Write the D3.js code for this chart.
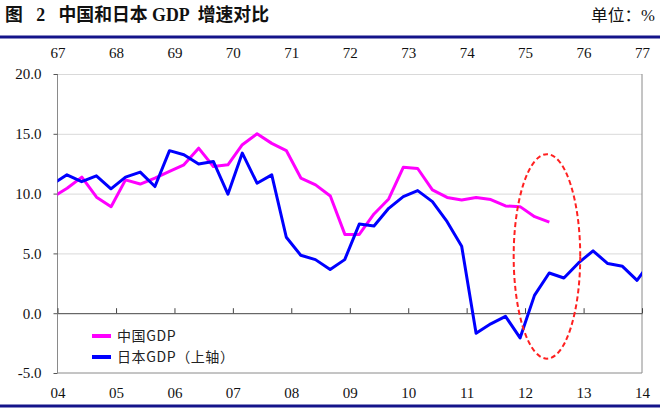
<!DOCTYPE html>
<html>
<head>
<meta charset="utf-8">
<script src="https://cdn.jsdelivr.net/npm/d3@7"></script>
<style>
  html, body { margin: 0; padding: 0; background: #fff; }
  svg { display: block; }
</style>
</head>
<body>
<svg id="chart" width="660" height="415"></svg>
<script>
// ---------------- data ----------------
const title = "图   2   中国和日本 GDP  增速对比";
const unitLabel = "单位：%";
const seriesNames = ["中国GDP", "日本GDP（上轴）"];
const seriesColors = ["#ff00ff", "#0000ff"];

// China GDP growth (%), quarterly, first point Dec 2003 (bottom axis 04-14)
const chinaStart = [2003, 11];
const chinaValues = [9.7, 10.45, 11.38, 9.7, 8.9, 11.15, 10.8, 11.3, 11.85, 12.41, 13.8, 12.27, 12.41,
  14.09, 15.0, 14.2, 13.6, 11.3, 10.73, 9.8, 6.59, 6.59, 8.3, 9.55, 12.2, 12.1, 10.31, 9.68, 9.47,
  9.68, 9.5, 8.97, 8.91, 8.07, 7.62];

// Japan GDP growth (%), quarterly, first point Dec 1966 (top axis 67-77)
const japanStart = [1966, 11];
const japanValues = [10.8, 11.57, 11.0, 11.49, 10.4, 11.38, 11.8, 10.59, 13.59, 13.25, 12.47, 12.69,
  9.95, 13.39, 10.87, 11.57, 6.35, 4.85, 4.48, 3.65, 4.48, 7.45, 7.29, 8.77, 9.75, 10.25, 9.33, 7.65,
  5.6, -1.68, -0.89, -0.26, -2.07, 1.49, 3.36, 2.94, 4.2, 5.21, 4.15, 3.92, 2.75, 4.4];

const bottomYears = [2004, 2014];
const topYears = [1967, 1977];
const yTicks = [-5, 0, 5, 10, 15, 20];

// annotation ellipse (in China-axis units): centre date, centre value, half-width (months), half-height (value)
const ellipseCenter = [2012, 4, 17];
const ellipseCenterValue = 4.75;
const ellipseHalfMonths = 6.85;
const ellipseHalfValue = 8.55;

// ---------------- layout ----------------
const svg = d3.select("#chart");
const plot = { left: 57.5, right: 642, top: 74, bottom: 373 };
const serif = "'Liberation Serif', 'Times New Roman', 'Noto Sans CJK SC', serif";

const quarterDates = (start, n) => d3.range(n).map(i => new Date(start[0], start[1] + 3 * i, 1));

const xChina = d3.scaleTime()
  .domain([new Date(bottomYears[0], 0, 1), new Date(bottomYears[1], 0, 1)])
  .range([plot.left, plot.right]);
const xJapan = d3.scaleTime()
  .domain([new Date(topYears[0], 0, 1), new Date(topYears[1], 0, 1)])
  .range([plot.left, plot.right]);
const y = d3.scaleLinear().domain([-5, 20]).range([plot.bottom, plot.top]);

// header
svg.append("text").attr("x", 5).attr("y", 21)
  .style("white-space", "pre")
  .attr("font-family", serif).attr("font-weight", "bold").attr("font-size", 18)
  .attr("fill", "#111").attr("textLength", 264).attr("lengthAdjust", "spacingAndGlyphs")
  .text(title);
svg.append("text").attr("x", 655).attr("y", 21).attr("text-anchor", "end")
  .attr("font-family", serif).attr("font-size", 16).attr("fill", "#111")
  .attr("textLength", 64).attr("lengthAdjust", "spacingAndGlyphs")
  .text(unitLabel);

svg.append("line").attr("x1", 0).attr("x2", 660).attr("y1", 37).attr("y2", 37)
  .attr("stroke", "#14148a").attr("stroke-width", 3);
svg.append("line").attr("x1", 0).attr("x2", 660).attr("y1", 406).attr("y2", 406)
  .attr("stroke", "#14148a").attr("stroke-width", 3);

// gridlines
const grid = svg.append("g").attr("transform", `translate(${plot.left},0)`)
  .call(d3.axisLeft(y).tickValues(yTicks.filter(v => v > 0)).tickSize(-(plot.right - plot.left)).tickFormat(""));
grid.select(".domain").remove();
grid.selectAll("line").attr("stroke", "#d9d9d9").attr("stroke-width", 1);

// plot frame (left, bottom, right)
svg.append("path")
  .attr("d", `M${plot.left},${y(20)}V${plot.bottom}H${plot.right}V${y(20)}`)
  .attr("fill", "none").attr("stroke", "#8a8a8a").attr("stroke-width", 1);

// y axis
const yAxis = svg.append("g").attr("transform", `translate(${plot.left},0)`)
  .call(d3.axisLeft(y).tickValues(yTicks).tickSize(4).tickPadding(12).tickFormat(d => d.toFixed(1)));
yAxis.select(".domain").remove();
yAxis.selectAll("line").attr("stroke", "#555");
yAxis.selectAll("text").attr("font-family", serif).attr("font-size", 15).attr("fill", "#111");

// zero line with year ticks
const zeroAxis = svg.append("g").attr("transform", `translate(0,${y(0)})`)
  .call(d3.axisTop(xChina).ticks(d3.timeYear.every(1)).tickSize(5).tickSizeOuter(0).tickFormat(""));
zeroAxis.select(".domain").attr("stroke", "#444");
zeroAxis.selectAll("line").attr("stroke", "#444");

// bottom labels (China years)
const bottomAxis = svg.append("g").attr("transform", `translate(0,${plot.bottom})`)
  .call(d3.axisBottom(xChina).ticks(d3.timeYear.every(1)).tickSize(0).tickPadding(14).tickFormat(d3.timeFormat("%y")));
bottomAxis.select(".domain").remove();
bottomAxis.selectAll("text").attr("font-family", serif).attr("font-size", 15).attr("fill", "#111");

// top labels (Japan years)
const topAxis = svg.append("g").attr("transform", `translate(0,${plot.top})`)
  .call(d3.axisTop(xJapan).ticks(d3.timeYear.every(1)).tickSize(0).tickPadding(16).tickFormat(d3.timeFormat("%y")));
topAxis.select(".domain").remove();
topAxis.selectAll("text").attr("font-family", serif).attr("font-size", 15).attr("fill", "#111");

// clip
svg.append("clipPath").attr("id", "plotClip").append("rect")
  .attr("x", plot.left).attr("y", plot.top - 5)
  .attr("width", plot.right - plot.left).attr("height", plot.bottom - plot.top + 5);

const chinaData = quarterDates(chinaStart, chinaValues.length).map((d, i) => ({ d, v: chinaValues[i] }));
const japanData = quarterDates(japanStart, japanValues.length).map((d, i) => ({ d, v: japanValues[i] }));

const lines = svg.append("g").attr("clip-path", "url(#plotClip)");
lines.append("path").datum(chinaData)
  .attr("d", d3.line().x(p => xChina(p.d)).y(p => y(p.v)))
  .attr("fill", "none").attr("stroke", seriesColors[0]).attr("stroke-width", 3).attr("stroke-linejoin", "round");
lines.append("path").datum(japanData)
  .attr("d", d3.line().x(p => xJapan(p.d)).y(p => y(p.v)))
  .attr("fill", "none").attr("stroke", seriesColors[1]).attr("stroke-width", 3).attr("stroke-linejoin", "round");

// annotation ellipse
const ecDate = new Date(ellipseCenter[0], ellipseCenter[1], ellipseCenter[2]);
const ecx = xChina(ecDate);
const erx = xChina(d3.timeDay.offset(ecDate, ellipseHalfMonths * 30.44)) - ecx;
svg.append("ellipse")
  .attr("cx", ecx).attr("cy", y(ellipseCenterValue))
  .attr("rx", erx).attr("ry", y(0) - y(ellipseHalfValue))
  .attr("fill", "none").attr("stroke", "#ff2020").attr("stroke-width", 2)
  .attr("stroke-dasharray", "5,3");

// legend
const legend = svg.append("g");
seriesNames.forEach((name, i) => {
  const ly = 336 + i * 21;
  legend.append("line").attr("x1", 92).attr("x2", 111).attr("y1", ly).attr("y2", ly)
    .attr("stroke", seriesColors[i]).attr("stroke-width", 4);
  legend.append("text").attr("x", 117).attr("y", ly + 5)
    .attr("font-family", "'Noto Sans CJK SC', sans-serif").attr("font-size", 14).attr("fill", "#222")
    .attr("letter-spacing", 0.6)
    .text(name);
});
</script>
</body>
</html>
